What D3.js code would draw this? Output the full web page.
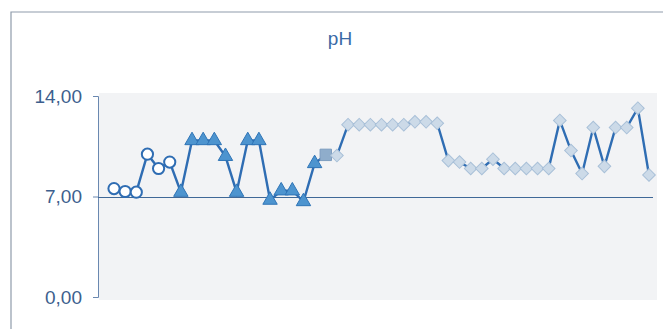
<!DOCTYPE html>
<html><head><meta charset="utf-8">
<script src="https://cdn.jsdelivr.net/npm/d3@7"></script>
<style>body{margin:0;background:#fff;} svg{display:block;}</style>
</head><body>
<svg id="c" width="663" height="329"></svg>
<script>
const title = "pH";
const samples = d3.range(1, 50);
const values = [7.55,7.35,7.3,9.95,8.95,9.4,
  7.3,10.9,10.9,10.9,9.8,7.3,10.9,10.9,6.75,7.4,7.4,6.65,9.3,
  9.9,
  9.85,12.0,12.0,12.0,12.0,12.0,12.0,12.2,12.2,12.1,
  9.5,9.4,8.95,8.95,9.6,8.95,8.95,8.95,8.95,8.95,
  12.3,10.2,8.6,11.8,9.1,11.8,11.8,13.15,8.5];
const markers = [].concat(
  Array(6).fill("circle"), Array(13).fill("triangle"),
  Array(1).fill("square"), Array(29).fill("diamond"));
const yTicks = [0, 7, 14];
const refValue = 7;

const svg = d3.select("#c");
const x = d3.scalePoint().domain(samples).range([114, 649]);
const y = d3.scaleLinear().domain([0, 14]).range([297, 96]);

// outer frame
svg.append("path").attr("d", "M11,329V12H663").attr("fill","none")
  .attr("stroke","#8f9cab").attr("stroke-width",1.2);

// plot background
svg.append("rect").attr("x",99).attr("y",93).attr("width",558).attr("height",207)
  .attr("fill","#f2f3f5");

svg.append("text").attr("x",340).attr("y",45).attr("text-anchor","middle")
  .attr("font-family","Liberation Sans, Arial, sans-serif").attr("font-size",19)
  .attr("fill","#3a6aa6").text(title);

// y axis
const ya = svg.append("g").attr("transform","translate(98,0)")
  .call(d3.axisLeft(y).tickValues(yTicks).tickSize(5).tickPadding(11)
    .tickFormat(d => d3.format(".2f")(d).replace(".", ",")));
ya.select(".domain").attr("stroke","#6a88b0");
ya.selectAll(".tick line").attr("stroke","#6a88b0");
ya.selectAll("text").attr("font-family","Liberation Sans, Arial, sans-serif")
  .attr("font-size",19).attr("fill","#3d5f8e");

// reference line at 7
svg.append("line").attr("x1",98).attr("x2",653)
  .attr("y1",y(refValue)+1).attr("y2",y(refValue)+1)
  .attr("stroke","#3f6897").attr("stroke-width",1.2);

// line
const line = d3.line().x((d,i)=>x(samples[i])).y(d=>y(d));
svg.append("path").datum(values).attr("d", line).attr("fill","none")
  .attr("stroke","#2f6db3").attr("stroke-width",2.4);

// markers
const g = svg.append("g");
values.forEach((v,i) => {
  const cx = x(samples[i]), cy = y(v), m = markers[i];
  if (m === "circle") {
    g.append("circle").attr("cx",cx).attr("cy",cy).attr("r",5.6)
      .attr("fill","#fff").attr("stroke","#2f6db3").attr("stroke-width",2);
  } else if (m === "triangle") {
    g.append("path").attr("d", d3.symbol(d3.symbolTriangle, 90)())
      .attr("transform",`translate(${cx},${cy})`)
      .attr("fill","#4d94cf").attr("stroke","#2f74b6").attr("stroke-width",1);
  } else if (m === "square") {
    g.append("path").attr("d", d3.symbol(d3.symbolSquare, 130)())
      .attr("transform",`translate(${cx},${cy})`)
      .attr("fill","#8fadcb").attr("stroke","#7d9dbf").attr("stroke-width",1);
  } else {
    g.append("path").attr("d", d3.symbol(d3.symbolSquare, 80)())
      .attr("transform",`translate(${cx},${cy}) rotate(45)`)
      .attr("fill","#ccdae8").attr("stroke","#a9c0d8").attr("stroke-width",1);
  }
});
</script>
</body></html>
